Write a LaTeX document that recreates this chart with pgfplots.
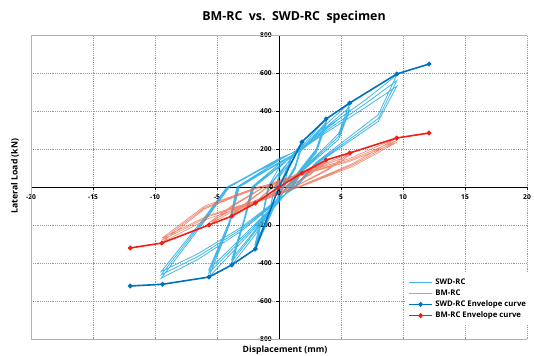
\documentclass[border=0pt]{standalone}
\usepackage{fontspec}
\setmainfont{Open Sans}
\usepackage{pgfplots}
\pgfplotsset{compat=1.18}
\definecolor{swdloop}{RGB}{20,165,225}
\definecolor{bmloop}{RGB}{235,105,75}
\definecolor{swdenv}{RGB}{0,112,192}
\definecolor{bmenv}{RGB}{240,30,20}
\begin{document}
\begin{tikzpicture}
\useasboundingbox (0,0) rectangle (400.5pt,267pt);
\begin{axis}[
 at={(23.25pt,12.75pt)}, anchor=south west,
 scale only axis, width=372pt, height=228pt,
 xmin=-20, xmax=20, ymin=-800, ymax=800,
 axis lines=middle, axis line style={-, black, line width=0.6pt},
 xtick={-20,-15,...,20}, ytick={-800,-600,...,800},
 grid=major, grid style={densely dotted, gray!80, line width=0.4pt},
 tick align=outside, tick style={black, line width=0.5pt}, major tick length=2pt,
 ticklabel style={font=\bfseries\fontsize{5}{6}\selectfont},
 /pgf/number format/assume math mode=true,
 /pgf/number format/1000 sep={},
 legend style={at={(rel axis cs:0.755,0.217)}, anchor=north west, draw=none, fill=white,
   font=\bfseries\fontsize{5.8}{6.8}\selectfont, row sep=-1.5pt, inner sep=2pt},
 legend cell align=left,
]
\draw[gray!60, line width=0.5pt] (rel axis cs:0,0) rectangle (rel axis cs:1,1);
% SWD-RC hysteresis loops
\addplot[swdloop, line width=0.6pt, opacity=0.8] coordinates {
(0,0) (0.9,140) (0.5,40) (0.2,0) (0,-40) (-0.9,-170) (-0.5,-50) (-0.2,0)
(0,50) (0.9,130) (0.5,35) (0.25,0) (0,-40) (-0.9,-160) (-0.5,-45) (-0.3,0)
(0,60) (1.85,237) (1.3,110) (0.3,0) (0,-50) (-1.9,-326) (-1.3,-150) (-0.8,0)
(0,70) (1.85,222) (1.3,100) (0.35,0) (0,-50) (-1.9,-305) (-1.3,-140) (-0.85,0)
(0,75) (1.85,212) (1.3,95) (0.4,0) (0,-45) (-1.9,-292) (-1.3,-135) (-0.9,0)
(0,100) (1.85,215) (3.8,358) (3.0,200) (0.6,0) (0,-60) (-1.9,-250) (-3.8,-410) (-2.8,-180) (-2.0,0)
(0,105) (1.85,205) (3.8,340) (3.0,190) (0.7,0) (0,-60) (-1.9,-235) (-3.8,-392) (-2.8,-170) (-2.1,0)
(0,110) (1.85,200) (3.8,328) (3.0,180) (0.75,0) (0,-55) (-1.9,-225) (-3.8,-378) (-2.8,-165) (-2.2,0)
(0,120) (1.85,205) (3.8,330) (5.7,442) (4.8,280) (2.0,100) (0.9,0) (0,-80) (-2.0,-220) (-5.65,-474) (-4.0,-200) (-3.2,0)
(0,125) (1.85,200) (3.8,315) (5.7,420) (4.8,265) (2.0,95) (1.0,0) (0,-75) (-2.0,-210) (-5.65,-452) (-4.0,-190) (-3.3,0)
(0,130) (1.85,195) (3.8,305) (5.7,402) (4.8,250) (2.0,90) (1.1,0) (0,-70) (-2.0,-200) (-5.65,-435) (-4.0,-180) (-3.4,0)
(0,140) (1.85,210) (4.0,320) (7.0,460) (9.5,590) (8.0,380) (3.0,130) (1.2,0) (0,-70) (-3.0,-230) (-6.5,-380) (-9.5,-480) (-6.0,-180) (-4.0,0)
(0,145) (1.85,205) (4.0,305) (7.0,440) (9.5,560) (8.0,360) (3.0,125) (1.3,0) (0,-65) (-3.0,-220) (-6.5,-365) (-9.5,-462) (-6.0,-170) (-4.1,0)
(0,150) (1.85,200) (4.0,295) (7.0,420) (9.5,530) (8.0,345) (3.0,120) (1.4,0) (0,-60) (-3.0,-210) (-6.5,-350) (-9.5,-445) (-6.0,-160) (-4.2,0)
(0,140)
};
\addlegendentry{SWD-RC}
% BM-RC hysteresis loops
\addplot[bmloop, line width=0.5pt, opacity=0.75] coordinates {
(0,0) (1.85,74) (1.0,25) (0.4,0) (0,-20) (-1.9,-85) (-1.0,-30) (-0.4,0)
(0,18) (1.85,68) (1.0,22) (0.45,0) (0,-18) (-1.9,-78) (-1.0,-27) (-0.45,0)
(0,25) (1.85,80) (3.8,142) (2.5,70) (0.8,0) (0,-30) (-1.9,-75) (-3.8,-153) (-2.5,-80) (-0.9,0)
(0,22) (1.85,74) (3.8,132) (2.5,64) (0.85,0) (0,-28) (-1.9,-70) (-3.8,-143) (-2.5,-74) (-0.95,0)
(0,30) (3.8,125) (5.7,179) (3.8,90) (1.2,0) (0,-35) (-3.8,-130) (-5.65,-200) (-3.8,-105) (-1.2,0)
(0,28) (3.8,118) (5.7,168) (3.8,84) (1.25,0) (0,-32) (-3.8,-122) (-5.65,-188) (-3.8,-98) (-1.25,0)
(0,35) (5.7,150) (9.5,258) (6.0,125) (1.5,0) (0,-40) (-5.65,-165) (-9.45,-292) (-6.0,-115) (-1.5,0)
(0,32) (5.7,142) (9.5,245) (6.0,118) (1.6,0) (0,-36) (-5.65,-155) (-9.45,-280) (-6.0,-108) (-1.6,0)
(0,30) (5.7,135) (9.5,235) (6.0,110) (1.7,0) (0,-34) (-5.65,-148) (-9.45,-270) (-6.0,-100) (-1.7,0)
(0,25)
};
\addlegendentry{BM-RC}
% envelopes
\addplot[swdenv, line width=1.2pt, mark=*, mark size=1.1pt] coordinates {
(-12.0,-521) (-9.4,-512) (-5.65,-474) (-3.8,-410) (-1.9,-326) (0,0) (1.85,237) (3.8,358) (5.7,442) (9.5,595) (12.1,647)
};
\addlegendentry{SWD-RC Envelope curve}
\addplot[bmenv, line width=1.2pt, mark=*, mark size=1.1pt] coordinates {
(-12.0,-321) (-9.45,-295) (-5.65,-200) (-3.8,-153) (-1.9,-85) (0,0) (1.85,73) (3.8,142) (5.7,179) (9.5,258) (12.1,284)
};
\addlegendentry{BM-RC Envelope curve}
\node[font=\bfseries\fontsize{5}{6}\selectfont, anchor=east, inner sep=1pt] at (axis cs:-0.35,0) {0};
\node[font=\bfseries\fontsize{5}{6}\selectfont, anchor=north, inner sep=1pt] at (axis cs:0,-12) {0};
\end{axis}
\node[font=\bfseries\fontsize{9.3}{11}\selectfont] at (220.5pt,254pt) {BM-RC\ \ vs.\ \ SWD-RC\ \ specimen};
\node[rotate=90, font=\bfseries\fontsize{6.5}{8}\selectfont] at (11.25pt,135pt) {Lateral Load (kN)};
\node[font=\bfseries\fontsize{6.5}{8}\selectfont] at (213.75pt,4.5pt) {Displacement (mm)};
\end{tikzpicture}
\end{document}
